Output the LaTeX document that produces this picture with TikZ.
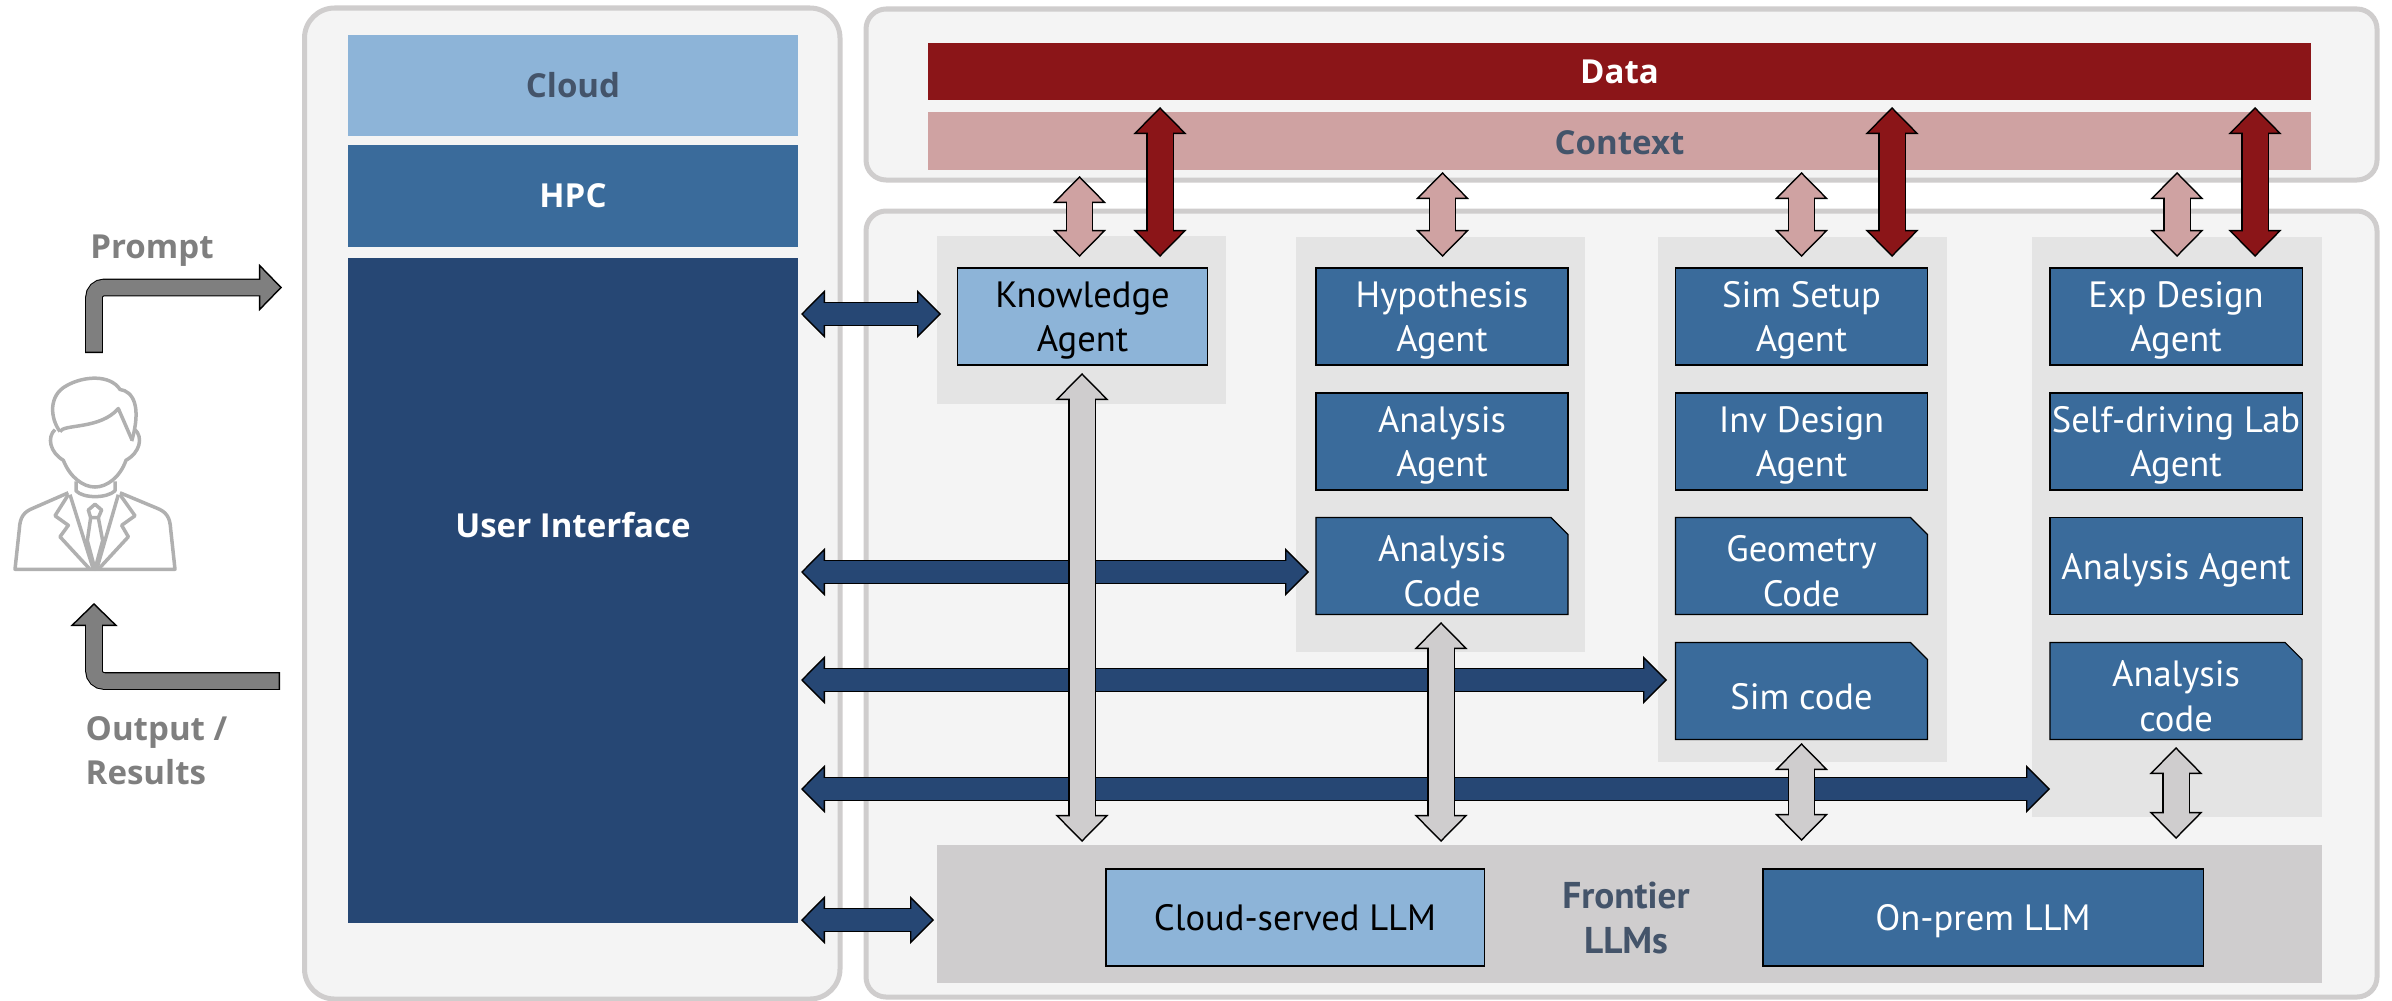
\documentclass[tikz,border=0pt]{standalone}
\usepackage{fontspec}
\setmainfont{PT Sans}
\newfontfamily\headfont{Open Sans}
\usetikzlibrary{positioning,arrows.meta,shapes.misc}

\definecolor{panelfill}{HTML}{F4F4F4}
\definecolor{panelline}{HTML}{CFCDCD}
\definecolor{groupfill}{HTML}{E4E4E4}
\definecolor{frontierfill}{HTML}{CFCDCE}
\definecolor{lightblue}{HTML}{8DB4D8}
\definecolor{midblue}{HTML}{3A6B9B}
\definecolor{navyblue}{HTML}{264774}
\definecolor{darkred}{HTML}{8B1518}
\definecolor{palered}{HTML}{CFA2A2}
\definecolor{slatetext}{HTML}{44546A}
\definecolor{flowgrey}{HTML}{7F7F7F}
\definecolor{personline}{HTML}{B0B0B0}

\tikzset{
  panel/.style={draw=panelline, fill=panelfill, line width=.05cm},
  groupbg/.style={fill=groupfill},
  box/.style={inner sep=0pt, outer sep=0pt, align=center, font=\fontsize{10.4}{12.6}\selectfont},
  headtext/.style={font=\headfont\fontsize{9.4}{12.5}\selectfont\bfseries},
  agent/.style={box, draw=black, line width=.35pt, fill=midblue, text=white, text depth=0pt, minimum width=2.52cm, minimum height=.97cm},
  code/.style={agent, text height=.8cm, chamfered rectangle, chamfered rectangle corners=north east, chamfered rectangle xsep=.085cm, chamfered rectangle ysep=.085cm},
  tier/.style={box, headtext, minimum width=4.5cm},
  bar/.style={box, headtext, minimum width=13.83cm, minimum height=.575cm},
  flowlabel/.style={inner sep=0pt, text=flowgrey, align=left, headtext},
  bothway/.style n args={4}{
    preaction={draw=black, line width=#2+.6pt, shorten >=0pt, shorten <=0pt,
      {Triangle[width=#3, length=#4, fill=#1, color=black, line width=.4pt]}-{Triangle[width=#3, length=#4, fill=#1, color=black, line width=.4pt]}},
    draw=#1, line width=#2, shorten >=#4-.6pt, shorten <=#4-.6pt},
  oneway/.style n args={4}{
    preaction={draw=black, line width=#2+.6pt, shorten >=0pt, shorten <=0pt,
      -{Triangle[width=#3, length=#4, fill=#1, color=black, line width=.4pt]}},
    draw=#1, line width=#2, shorten >=#4-.6pt, shorten <=.4pt},
  contextarrow/.style={bothway={palered}{.25cm}{.53cm}{.27cm}},
  dataarrow/.style={bothway={darkred}{.25cm}{.53cm}{.27cm}},
  userarrow/.style={bothway={navyblue}{.22cm}{.48cm}{.24cm}},
  llmarrow/.style={bothway={frontierfill}{.25cm}{.53cm}{.27cm}},
  flowarrow/.style={oneway={flowgrey}{.155cm}{.47cm}{.23cm}, rounded corners=.1cm},
  person/.style={draw=personline, line width=.035cm, line join=round},
}

\begin{document}
\begin{tikzpicture}[x=.01cm, y=-.01cm]
\useasboundingbox (0,0) rectangle (2392,1000);

% panels
\draw[panel, rounded corners=.3cm] (304.5,8) rectangle (840,999);
\draw[panel, rounded corners=.2cm] (866,9) rectangle (2377,180);
\draw[panel, rounded corners=.2cm] (866,211) rectangle (2377,997);

% left column
\node[tier, fill=lightblue, text=slatetext, minimum height=1.01cm] (cloud) at (573,85.5) {Cloud};
\node[tier, fill=midblue, text=white, minimum height=1.02cm] (hpc) at (573,196) {HPC};
\node[tier, fill=navyblue, minimum height=6.65cm] (ui) at (573,590.5) {};
\node[box, headtext, text=white] (uilabel) at (573,525) {User Interface};

% data and context
\node[bar, fill=darkred, text=white] (data) at (1619.5,71.5) {Data};
\node[bar, fill=palered, text=slatetext, text height=.27cm, text depth=0pt] (context) at (1619.5,141) {Context};

% agent groups
\fill[groupbg] (937,236) rectangle (1226,404);
\fill[groupbg] (1296,237) rectangle (1585,652);
\fill[groupbg] (1658,237) rectangle (1947,762);
\fill[groupbg] (2032,237) rectangle (2322,817);
\fill[frontierfill] (937,845) rectangle (2322,983);

\node[agent, fill=lightblue, text=black, minimum width=2.5cm] (knowledge) at (1082.5,316.5) {Knowledge\\Agent};

\node[agent] (hypothesis) at (1442,316.5) {Hypothesis\\Agent};
\node[agent] (analysisA) at (1442,441.5) {Analysis\\Agent};
\node[code] (analysisC) at (1442,566) {Analysis\\Code};

\node[agent] (simsetup) at (1801.5,316.5) {Sim Setup\\Agent};
\node[agent] (invdesign) at (1801.5,441.5) {Inv Design\\Agent};
\node[code] (geometry) at (1801.5,566) {Geometry\\Code};
\node[code, text height=.36cm] (simcode) at (1801.5,691) {Sim code};

\node[agent] (expdesign) at (2176,316.5) {Exp Design\\Agent};
\node[agent] (selfdriving) at (2176,441.5) {Self-driving Lab\\Agent};
\node[agent] (analysisB) at (2176,566) {Analysis Agent};
\node[code] (analysisD) at (2176,691) {Analysis\\code};

% frontier LLMs
\node[agent, fill=lightblue, text=black, minimum width=3.78cm] (cloudllm) at (1295,917.5) {Cloud-served LLM};
\node[agent, minimum width=4.4cm] (premllm) at (1983,917.5) {On-prem LLM};
\node[box, text=slatetext, font=\fontsize{10.6}{12.6}\selectfont\bfseries] (frontier) at (1626,918) {Frontier\\LLMs};

% arrow ends
\coordinate (ctxKa) at (1079.5,176); \coordinate (ctxKb) at (1079.5,257);
\coordinate (datKa) at (1160,107); \coordinate (datKb) at (1160,257);
\coordinate (ctxHa) at (1442.5,172); \coordinate (ctxHb) at (1442.5,257);
\coordinate (ctxSa) at (1801.5,172); \coordinate (ctxSb) at (1801.5,257);
\coordinate (datSa) at (1892,107); \coordinate (datSb) at (1892,257);
\coordinate (ctxEa) at (2177,172); \coordinate (ctxEb) at (2177,257);
\coordinate (datEa) at (2255,107); \coordinate (datEb) at (2255,257);

\draw[contextarrow] (ctxKa) -- (ctxKb);
\draw[dataarrow] (datKa) -- (datKb);
\draw[contextarrow] (ctxHa) -- (ctxHb);
\draw[contextarrow] (ctxSa) -- (ctxSb);
\draw[dataarrow] (datSa) -- (datSb);
\draw[contextarrow] (ctxEa) -- (ctxEb);
\draw[dataarrow] (datEa) -- (datEb);

\coordinate (uiK) at (801,314); \coordinate (toK) at (941,314);
\coordinate (uiH) at (801,572); \coordinate (toH) at (1309,572);
\coordinate (uiS) at (801,680); \coordinate (toS) at (1667,680);
\coordinate (uiE) at (801,789); \coordinate (toE) at (2050,789);
\coordinate (uiL) at (801,920); \coordinate (toL) at (934,920);

\draw[userarrow] (uiK) -- (toK);
\draw[userarrow] (uiH) -- (toH);
\draw[userarrow] (uiS) -- (toS);
\draw[userarrow] (uiE) -- (toE);
\draw[userarrow] (uiL) -- (toL);

\coordinate (llmKa) at (1082,373); \coordinate (llmKb) at (1082,842);
\coordinate (llmHa) at (1441,622); \coordinate (llmHb) at (1441,842);
\coordinate (llmSa) at (1801.5,743); \coordinate (llmSb) at (1801.5,841);
\coordinate (llmEa) at (2176,747); \coordinate (llmEb) at (2176,839);

\draw[llmarrow] (llmKa) -- (llmKb);
\draw[llmarrow] (llmHa) -- (llmHb);
\draw[llmarrow] (llmSa) -- (llmSb);
\draw[llmarrow] (llmEa) -- (llmEb);

% user side
\node[flowlabel] (prompt) at (152,251) {Prompt};
\node[flowlabel, anchor=north west] (output) at (85,716) {Output /\\Results};

\coordinate (promptS) at (94,353);
\coordinate (promptE) at (282,287.5);
\coordinate (outputS) at (280,681);
\coordinate (outputE) at (94,603);
\draw[flowarrow] (promptS) |- (promptE);
\draw[flowarrow] (outputS) -| (outputE);

\begin{scope}[x=.01cm/3, y=-.01cm/2.613, shift={(0,522.6)}]
\draw[person] (180,605) .. controls (150,570) and (145,510) .. (200,485) .. controls (250,460) and (330,455) .. (360,495) .. controls (400,500) and (425,540) .. (395,630);
\draw[person] (180,605) .. controls (190,585) and (300,600) .. (355,545) -- (395,625);
\draw[person] (165,600) .. controls (140,620) and (150,660) .. (190,680) .. controls (210,725) and (250,750) .. (285,750) .. controls (320,750) and (360,725) .. (378,680) .. controls (420,660) and (430,620) .. (405,600);
\draw[person] (228,735) -- (228,760) .. controls (250,780) and (320,780) .. (345,760) -- (345,735);
\draw[person] (205,765) -- (100,805) .. controls (70,815) and (60,830) .. (58,860) -- (45,965) -- (525,965) -- (512,860) .. controls (510,830) and (500,815) .. (470,805) -- (360,765);
\draw[person] (205,770) -- (165,825) -- (205,850) -- (180,880) -- (270,965);
\draw[person] (360,770) -- (405,825) -- (365,850) -- (385,880) -- (295,965);
\draw[person] (210,770) -- (280,965);
\draw[person] (355,770) -- (290,965);
\draw[person] (265,810) -- (285,795) -- (305,810) -- (295,830) -- (272,830) -- cycle;
\draw[person] (272,830) -- (262,890) -- (285,965) -- (308,890) -- (295,830);
\end{scope}
\end{tikzpicture}
\end{document}
